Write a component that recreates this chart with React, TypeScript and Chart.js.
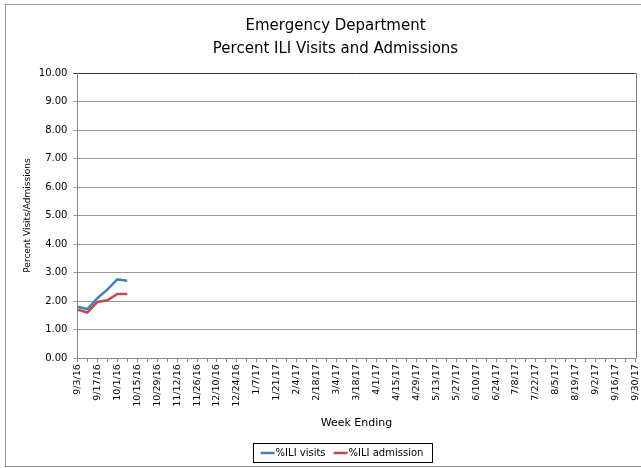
import React, { useEffect, useRef } from "react";
import { Chart, registerables } from "chart.js";

Chart.register(...registerables);

const weekLabels: string[] = (() => {
  const out: string[] = [];
  const start = new Date(2016, 8, 3);
  for (let i = 0; i < 57; i++) {
    const d = new Date(start.getFullYear(), start.getMonth(), start.getDate() + i * 7);
    out.push(`${d.getMonth() + 1}/${d.getDate()}/${String(d.getFullYear()).slice(2)}`);
  }
  return out;
})();

const iliVisits: (number | null)[] = [1.8, 1.72, 2.1, 2.4, 2.76, 2.71];
const iliAdmission: (number | null)[] = [1.7, 1.6, 1.97, 2.03, 2.25, 2.25];

const titleLines = ["Emergency Department", "Percent ILI Visits and Admissions"];
const FONT = "'DejaVu Sans', Verdana, sans-serif";

const CANVAS_W = 649;
const LEGEND_CENTER_X = 342;
const LEGEND_TOP = 443;
const LEGEND_H = 19;
const LEGEND_LINE = 14;
const LEGEND_FONT = 10;

export default function App() {
  const ref = useRef<HTMLCanvasElement | null>(null);
  useEffect(() => {
    if (!ref.current) return;
    const framePlugin = {
      id: "frame",
      afterDraw(chart: any) {
        const ctx = chart.ctx;
        const a = chart.chartArea;
        ctx.save();
        ctx.strokeStyle = "#777";
        ctx.lineWidth = 1;
        ctx.beginPath();
        ctx.moveTo(Math.round(a.right) + 0.5, a.top);
        ctx.lineTo(Math.round(a.right) + 0.5, a.bottom);
        ctx.stroke();
        // custom legend with box
        const ds = chart.data.datasets;
        ctx.font = `${LEGEND_FONT}px ${FONT}`;
        const gap = 8;
        const items = ds.map((d: any) => ({ text: d.label, color: d.borderColor, w: LEGEND_LINE + 1 + ctx.measureText(d.label).width }));
        const total = items.reduce((s: number, it: any) => s + it.w, 0) + gap * (items.length - 1);
        const padX = 8;
        const boxL = Math.round(LEGEND_CENTER_X - total / 2 - padX);
        const boxW = Math.round(total + padX * 2);
        ctx.strokeStyle = "#000";
        ctx.strokeRect(boxL + 0.5, LEGEND_TOP + 0.5, boxW, LEGEND_H);
        let x = LEGEND_CENTER_X - total / 2;
        const cy = LEGEND_TOP + LEGEND_H / 2 + 0.5;
        ctx.textBaseline = "middle";
        ctx.textAlign = "left";
        items.forEach((it: any) => {
          ctx.strokeStyle = it.color;
          ctx.lineWidth = 2.5;
          ctx.beginPath();
          ctx.moveTo(x, cy);
          ctx.lineTo(x + LEGEND_LINE, cy);
          ctx.stroke();
          ctx.fillStyle = "#000";
          ctx.fillText(it.text, x + LEGEND_LINE + 1, cy + 0.5);
          x += it.w + gap;
        });
        ctx.restore();
      },
    };
    const chart = new Chart(ref.current, {
      type: "line",
      data: {
        labels: weekLabels,
        datasets: [
          { label: "%ILI visits", data: iliVisits, borderColor: "#4A7EBB", backgroundColor: "#4A7EBB", borderWidth: 2.5, pointRadius: 0, tension: 0 },
          { label: "%ILI admission", data: iliAdmission, borderColor: "#BE4B48", backgroundColor: "#BE4B48", borderWidth: 2.5, pointRadius: 0, tension: 0 },
        ],
      },
      options: {
        animation: false,
        responsive: false,
        maintainAspectRatio: false,
        layout: { padding: { left: 22, right: 0, top: 15, bottom: 34 } },
        plugins: {
          title: {
            display: true,
            text: titleLines,
            color: "#000",
            font: { family: FONT, size: 15, weight: "normal", lineHeight: 1.5 },
            padding: { top: 0, bottom: 13 },
          },
          legend: { display: false },
          tooltip: { enabled: false },
        },
        scales: {
          x: {
            offset: false,
            grid: { drawOnChartArea: false, drawTicks: true, tickLength: 4, color: "#888" },
            border: { color: "#888" },
            ticks: {
              autoSkip: false,
              minRotation: 90,
              maxRotation: 90,
              color: "#000",
              font: { family: FONT, size: 9.5 },
              padding: 2,
              callback: (_v: any, i: number) => (i % 2 === 0 ? weekLabels[i] : ""),
            },
            title: { display: true, text: "Week Ending", color: "#000", font: { family: FONT, size: 11 }, padding: { top: 8, bottom: 4 } },
          },
          y: {
            min: 0,
            max: 10,
            grid: {
              color: (c: any) => (c.tick && c.tick.value === 10 ? "#333" : "#999"),
              tickLength: 4,
            },
            border: { color: "#888" },
            ticks: {
              stepSize: 1,
              color: "#000",
              font: { family: FONT, size: 10 },
              padding: 6,
              callback: (v: any) => Number(v).toFixed(2),
            },
            title: { display: true, text: "Percent Visits/Admissions", color: "#000", font: { family: FONT, size: 9 }, padding: { top: 0, bottom: 0 } },
          },
        },
      },
      plugins: [framePlugin],
    });
    return () => chart.destroy();
  }, []);
  return (
    <div style={{ position: "fixed", left: 0, top: 0, width: 641, height: 468, overflow: "hidden", background: "#fff" }}>
      <div style={{ position: "absolute", left: 5, top: 4, width: 660, height: 461, border: "1px solid #999" }} />
      <canvas ref={ref} width={CANVAS_W} height={468} style={{ position: "absolute", left: 0, top: 0, width: CANVAS_W, height: 468 }} />
    </div>
  );
}
